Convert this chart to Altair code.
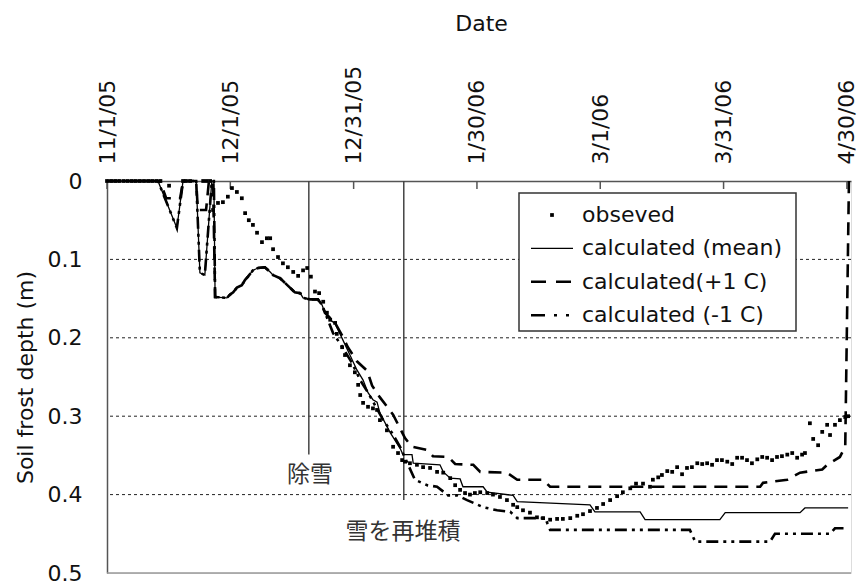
import altair as alt
import pandas as pd

START = pd.Timestamp("2005-11-01")

# ---- observed frost depth (day offset from 1 Nov 2005, depth in m) ----
obs_day = [0, 1, 2, 3, 4, 5, 6, 7, 8, 9, 10, 11, 12, 13, 15.1, 18.5, 19.2, 20.2,
           23.4, 24.3, 25.1, 25.8, 27.0, 28.2, 29.4, 30.4, 31.6, 32.8, 33.6, 34.5,
           35.5, 36.5, 37.7, 38.9, 39.7, 40.4, 41.6, 42.8, 44.0, 45.3, 46.5, 47.7,
           48.7, 49.6, 50.6, 51.6, 52.6, 53.5, 54.3, 55.5, 55.9, 57.2, 57.9, 59.1,
           60.3, 61.1, 61.6, 62.3, 63.5, 64.7, 65.7, 66.4, 68.1, 69.6, 70.8, 71.8,
           72.5, 73.7, 75.4, 76.9, 78.6, 80.3, 81.8, 83.5, 84.7, 85.9, 87.1, 88.3,
           89.5, 90.8, 92.5, 93.9, 95.6, 97.3, 98.8, 99.8, 101.2, 102.9, 104.6,
           106.1, 107.8, 109.5, 110.9, 112.7, 114.4, 115.8, 117.5, 119.2, 120.7,
           122.4, 124.1, 125.5, 127.3, 128.7, 130.4, 132.1, 132.8, 134.1, 135.0,
           136.3, 137.5, 138.7, 139.9, 141.1, 142.3, 143.6, 144.8, 146.0, 147.2,
           148.4, 149.6, 150.9, 152.1, 153.3, 154.5, 155.7, 156.9, 158.2, 159.4,
           160.6, 161.8, 163.0, 164.2, 165.5, 166.7, 167.9, 169.1, 169.8, 171.0,
           171.8, 173.0, 174.0, 175.2, 175.9, 177.1, 178.3, 179.6, 180.3]
obs_depth = [0, 0, 0, 0, 0, 0, 0, 0, 0, 0, 0, 0, 0, 0, 0.006, 0, 0, 0,
             0, 0, 0, 0.037, 0.028, 0.027, 0.020, 0.009, 0.014, 0.022, 0.041, 0.050,
             0.056, 0.066, 0.078, 0.073, 0.073, 0.087, 0.097, 0.105, 0.110, 0.116, 0.121, 0.114,
             0.111, 0.122, 0.141, 0.143, 0.154, 0.168, 0.177, 0.181, 0.195, 0.212, 0.222, 0.235,
             0.244, 0.260, 0.273, 0.283, 0.288, 0.290, 0.292, 0.305, 0.318, 0.339, 0.347, 0.356,
             0.358, 0.360, 0.362, 0.365, 0.366, 0.371, 0.372, 0.379, 0.388, 0.394, 0.398, 0.400,
             0.398, 0.397, 0.398, 0.400, 0.403, 0.407, 0.413, 0.416, 0.420, 0.423, 0.429,
             0.430, 0.432, 0.431, 0.431, 0.430, 0.427, 0.425, 0.421, 0.417, 0.412,
             0.407, 0.402, 0.397, 0.392, 0.386, 0.386, 0.390, 0.381, 0.378, 0.375,
             0.370, 0.371, 0.365, 0.374, 0.366, 0.365, 0.360, 0.361, 0.360, 0.362,
             0.356, 0.356, 0.358, 0.361, 0.353, 0.353, 0.356, 0.360, 0.355, 0.352,
             0.353, 0.356, 0.352, 0.351, 0.349, 0.347, 0.353, 0.349, 0.347, 0.309,
             0.329, 0.337, 0.320, 0.311, 0.324, 0.311, 0.305, 0.301, 0.300]

# ---- calculated, mean air temperature ----
mean_day = [0, 12.4, 17.0, 18.5, 21.7, 22.6, 23.8, 25.5, 26.0, 26.3, 29.2, 29.9,
            30.7, 31.6, 32.8, 33.6, 34.3, 35.5, 36.7, 38.4, 39.7, 40.4, 42.1, 43.3,
            44.5, 45.7, 47.0, 47.7, 49.4, 51.3, 52.3, 53.0, 54.3, 55.5, 57.4, 59.1,
            60.8, 62.3, 63.5, 64.7, 65.7, 66.4, 68.9, 71.3, 72.0, 74.2, 74.5, 81.0,
            81.8, 83.5, 85.9, 86.6, 91.5, 92.5, 98.8, 99.8, 117.5, 118.7, 129.7,
            130.9, 149.1, 150.4, 168.6, 169.8, 180.3]
mean_depth = [0, 0, 0.060, 0, 0, 0.117, 0.120, 0, 0, 0.148, 0.149, 0.145,
              0.142, 0.136, 0.133, 0.126, 0.122, 0.114, 0.111, 0.110, 0.116, 0.120, 0.124, 0.130,
              0.136, 0.142, 0.143, 0.149, 0.151, 0.151, 0.158, 0.168, 0.177, 0.182, 0.203, 0.222,
              0.241, 0.254, 0.270, 0.279, 0.282, 0.296, 0.321, 0.341, 0.349, 0.349, 0.360, 0.362,
              0.371, 0.379, 0.380, 0.390, 0.390, 0.397, 0.401, 0.409, 0.413, 0.422, 0.422,
              0.432, 0.432, 0.423, 0.423, 0.417, 0.417]

# ---- calculated, air temperature +1 C ----
plus_day = [0, 12.9, 14.4, 17.8, 18.5, 21.7, 22.1, 24.1, 24.8, 25.8, 26.3, 29.2,
            29.9, 30.7, 31.6, 32.8, 33.6, 34.3, 35.5, 36.7, 38.4, 39.7, 40.4, 42.1,
            43.3, 44.5, 45.7, 47.0, 47.7, 49.4, 51.3, 52.3, 53.0, 55.5, 57.4, 58.6,
            60.8, 63.3, 64.5, 66.4, 69.6, 72.5, 74.2, 77.9, 79.3, 83.0, 84.7, 89.1,
            90.8, 97.3, 99.8, 106.1, 107.8, 158.9, 159.6, 165.5, 168.6, 174.0, 175.2,
            178.3, 179.6, 180.5]
plus_depth = [0, 0, 0.022, 0.022, 0, 0, 0.037, 0.037, 0, 0, 0.148, 0.149,
              0.145, 0.142, 0.136, 0.133, 0.126, 0.122, 0.114, 0.111, 0.110, 0.116, 0.120, 0.124,
              0.130, 0.136, 0.142, 0.143, 0.149, 0.151, 0.151, 0.158, 0.168, 0.181, 0.199, 0.212,
              0.230, 0.242, 0.261, 0.276, 0.298, 0.328, 0.339, 0.343, 0.351, 0.352, 0.361, 0.362,
              0.371, 0.372, 0.381, 0.381, 0.390, 0.390, 0.385, 0.381, 0.372, 0.368, 0.362,
              0.352, 0.339, 0.0]

# ---- calculated, air temperature -1 C ----
minus_day = [0, 12.4, 17.0, 18.5, 21.7, 22.6, 23.8, 25.5, 26.0, 26.3, 29.2, 29.9,
             30.7, 31.6, 32.8, 33.6, 34.3, 35.5, 36.7, 38.4, 39.7, 40.4, 42.1, 43.3,
             44.5, 45.7, 47.0, 47.7, 49.4, 51.3, 52.3, 55.0, 57.4, 59.6, 61.6, 63.5,
             67.2, 69.3, 71.3, 74.9, 77.9, 80.3, 83.0, 85.2, 87.6, 91.5, 94.9, 98.1,
             99.8, 106.6, 107.8, 141.8, 143.1, 161.3, 162.5, 175.9, 177.1, 180.3]
minus_depth = [0, 0, 0.060, 0, 0, 0.117, 0.120, 0, 0, 0.148, 0.149, 0.145,
               0.142, 0.136, 0.133, 0.126, 0.122, 0.114, 0.111, 0.110, 0.116, 0.120, 0.124, 0.130,
               0.136, 0.142, 0.143, 0.149, 0.151, 0.151, 0.158, 0.194, 0.213, 0.232, 0.254, 0.270,
               0.305, 0.321, 0.339, 0.381, 0.388, 0.390, 0.401, 0.401, 0.407, 0.416, 0.420, 0.422,
               0.430, 0.430, 0.445, 0.445, 0.460, 0.460, 0.450, 0.450, 0.443, 0.443]

# ---- snow handling events ----
event_label = ["除雪", "雪を再堆積"]
event_day = [49.1, 72.2]
event_line_end = [0.349, 0.407]
event_text_day = [49.4, 72.0]
event_text_depth = [0.375, 0.448]

# ---- axes ----
tick_dates = ["2005-11-01", "2005-12-01", "2005-12-31", "2006-01-30",
              "2006-03-01", "2006-03-31", "2006-04-30"]
grid_depths = [0.1, 0.2, 0.3, 0.4]
depth_ticks = [0, 0.1, 0.2, 0.3, 0.4, 0.5]

legend_labels = ["obseved", "calculated (mean)", "calculated(+1 C)", "calculated (-1 C)"]

W, H = 744, 392
FONT = "DejaVu Sans"


def to_date(days):
    return [START + pd.Timedelta(days=float(d)) for d in days]


def series_frame(days, depths):
    return pd.DataFrame({"date": to_date(days), "depth": depths, "idx": range(len(days))})


def dt(s):
    t = pd.Timestamp(s)
    return alt.DateTime(year=t.year, month=t.month, date=t.day)


x_scale = alt.Scale(domain=[dt("2005-11-01"), dt("2006-05-01")], nice=False)
y_scale = alt.Scale(domain=[0, 0.5], reverse=True, nice=False, zero=False)

x_axis = alt.Axis(
    orient="top", values=[dt(s) for s in tick_dates], format="%-m/%-d/%y",
    labelAngle=270, labelAlign="left", labelBaseline="middle", labelFontSize=22,
    labelFont=FONT, labelColor="#111", labelPadding=17, labelFlush=False,
    labelOverlap=False, ticks=False, grid=False, domainColor="#555", domainWidth=1.5,
    title="Date", titleFontSize=22, titleFont=FONT, titleFontWeight="normal",
    titleColor="#111", titleX=374, titleY=-158, titleAlign="center",
    titleBaseline="middle", titleAngle=0,
)
y_axis = alt.Axis(
    values=depth_ticks, labelExpr="datum.value == 0 ? '0' : format(datum.value, '.1f')",
    labelFontSize=22, labelFont=FONT, labelColor="#111", labelPadding=25,
    labelFlush=False, labelOverlap=False, ticks=False, grid=False,
    domainColor="#555", domainWidth=1.5,
    title="Soil frost depth (m)", titleFontSize=22, titleFont=FONT,
    titleFontWeight="normal", titleColor="#111", titleX=-82, titleY=H / 2,
    titleAngle=270, titleAlign="center", titleBaseline="middle",
)


def xenc(field="date"):
    return alt.X(f"{field}:T", scale=x_scale, axis=x_axis, title="Date")


def yenc(field="depth"):
    return alt.Y(f"{field}:Q", scale=y_scale, axis=y_axis, title="Soil frost depth (m)")


# horizontal dotted grid
grid = alt.Chart(pd.DataFrame({"depth": grid_depths})).mark_rule(
    color="#222", strokeWidth=1, strokeDash=[3, 3]
).encode(y=yenc())

# bottom frame line
bottom = alt.Chart(pd.DataFrame({"depth": [0.5]})).mark_rule(
    color="#999", strokeWidth=1.5
).encode(y=yenc())

# inward tick marks along the date axis
ticks = alt.Chart(pd.DataFrame({"date": pd.to_datetime(tick_dates)})).mark_rule(
    color="#555", strokeWidth=1.5
).encode(x=xenc(), y=alt.value(0), y2=alt.value(8))

# snow handling markers
events = pd.DataFrame({
    "date": to_date(event_day), "depth": [0.0, 0.0], "end": event_line_end,
    "tdate": to_date(event_text_day), "tdepth": event_text_depth, "label": event_label,
})
event_lines = alt.Chart(events).mark_rule(color="#444", strokeWidth=1.5).encode(
    x=xenc(), y=yenc(), y2="end:Q"
)
event_text = alt.Chart(events).mark_text(
    font="Noto Sans CJK JP", fontSize=23, color="#333", align="center", baseline="middle"
).encode(x=xenc("tdate"), y=yenc("tdepth"), text="label:N")

line_mean = alt.Chart(series_frame(mean_day, mean_depth)).mark_line(
    color="#000", strokeWidth=1.3
).encode(x=xenc(), y=yenc(), order="idx:Q")
line_plus = alt.Chart(series_frame(plus_day, plus_depth)).mark_line(
    color="#000", strokeWidth=2.6, strokeDash=[13, 8]
).encode(x=xenc(), y=yenc(), order="idx:Q")
line_minus = alt.Chart(series_frame(minus_day, minus_depth)).mark_line(
    color="#000", strokeWidth=2.6, strokeDash=[12, 5, 3, 5, 3, 5]
).encode(x=xenc(), y=yenc(), order="idx:Q")
observed = alt.Chart(series_frame(obs_day, obs_depth)).mark_point(
    shape="square", filled=True, size=14, color="#000", opacity=1
).encode(x=xenc(), y=yenc())

# legend drawn inside the plot area
LX0, LX1, LY0, LY1 = 412, 689, 12, 150
ROW0, ROWH = 34, 33.4
one = pd.DataFrame({"a": [0]})
legend_box = alt.Chart(one).mark_rect(
    fill="white", stroke="#333", strokeWidth=1.5
).encode(x=alt.value(LX0), x2=alt.value(LX1), y=alt.value(LY0), y2=alt.value(LY1))
legend_layers = [legend_box]
for i, lab in enumerate(legend_labels):
    legend_layers.append(
        alt.Chart(one).mark_text(
            text=lab, font=FONT, fontSize=22, color="#111", align="left", baseline="middle"
        ).encode(x=alt.value(475), y=alt.value(ROW0 + i * ROWH))
    )
legend_layers.append(alt.Chart(one).mark_point(
    shape="square", filled=True, size=14, color="#000", opacity=1
).encode(x=alt.value(445), y=alt.value(ROW0)))
legend_layers.append(alt.Chart(one).mark_rule(color="#000", strokeWidth=1.3).encode(
    x=alt.value(424), x2=alt.value(466), y=alt.value(ROW0 + ROWH)))
legend_layers.append(alt.Chart(one).mark_rule(
    color="#000", strokeWidth=2.6, strokeDash=[15, 10]
).encode(x=alt.value(424), x2=alt.value(466), y=alt.value(ROW0 + 2 * ROWH)))
legend_layers.append(alt.Chart(one).mark_rule(
    color="#000", strokeWidth=2.6, strokeDash=[14, 9, 3, 9, 3, 9]
).encode(x=alt.value(424), x2=alt.value(468), y=alt.value(ROW0 + 3 * ROWH)))

chart = alt.layer(
    grid, bottom, ticks, event_lines, event_text,
    line_mean, line_plus, line_minus, observed, *legend_layers,
).properties(
    width=W, height=H,
    autosize=alt.AutoSizeParams(type="none"),
    padding={"left": 107, "top": 181, "right": 8, "bottom": 11},
    background="white",
).configure_view(stroke=None).configure(font=FONT)

chart.save("out.html", embed_options={"renderer": "svg", "actions": False})
